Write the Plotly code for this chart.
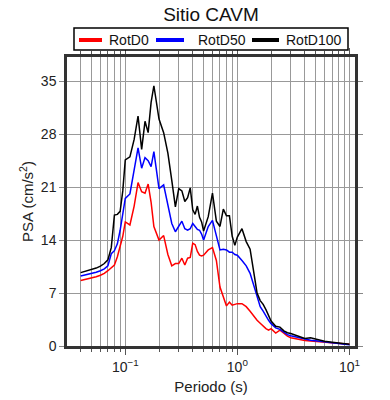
import plotly.graph_objects as go

periods = [0.04, 0.045, 0.05, 0.055, 0.06, 0.065, 0.07, 0.075, 0.08, 0.085, 0.09, 0.095,
           0.10, 0.11, 0.12, 0.13, 0.14, 0.15, 0.16, 0.17, 0.18, 0.19,
           0.20, 0.22, 0.24, 0.26, 0.28, 0.30, 0.32, 0.34, 0.36, 0.38,
           0.40, 0.42, 0.44, 0.46, 0.48, 0.50, 0.55, 0.60, 0.65, 0.70,
           0.75, 0.80, 0.85, 0.90, 0.95, 1.0, 1.1, 1.2, 1.3, 1.4,
           1.5, 1.6, 1.7, 1.8, 1.9, 2.0, 2.2, 2.4, 2.6, 2.8,
           3.0, 3.5, 4.0, 4.5, 5.0, 5.5, 6.0, 7.0, 8.0, 9.0, 10.0]

rotd0 = [8.65, 8.8, 9.0, 9.15, 9.35, 9.6, 9.95, 10.3, 10.7, 11.8, 13.2, 14.5,
         16.4, 16.0, 18.5, 21.6, 20.4, 20.2, 21.4, 19.0, 15.8, 14.8,
         14.0, 14.6, 12.1, 10.6, 10.9, 10.9, 11.6, 10.7, 11.6, 11.7,
         13.6, 13.4, 12.5, 12.0, 11.9, 12.0, 12.7, 13.0, 11.3, 7.8,
         6.5, 5.3, 5.8, 5.4, 5.5, 5.6, 5.6, 5.2, 4.6, 3.9,
         3.4, 3.0, 2.6, 2.3, 2.1, 2.3, 1.7, 2.1, 1.7, 1.3,
         1.1, 0.85, 0.72, 0.65, 0.6, 0.55, 0.5, 0.42, 0.35, 0.28, 0.22]

rotd50 = [9.25, 9.4, 9.6, 9.75, 9.95, 10.2, 10.6, 12.2, 12.6, 13.5, 15.3, 17.2,
          19.5, 20.1, 23.4, 26.2, 23.5, 24.9, 24.5, 23.7, 25.7, 23.5,
          20.8, 21.3, 18.6, 16.2, 15.1, 15.8, 16.5, 15.5, 15.3, 15.5,
          16.2, 15.8, 15.4, 15.3, 14.8, 14.0, 15.8, 16.6, 14.6, 12.7,
          12.8, 12.7, 12.4, 12.4, 12.1, 12.0, 11.3, 10.6, 9.6, 8.0,
          6.4, 5.2, 4.6, 3.9, 3.4, 2.95, 2.4, 2.2, 1.8, 1.5,
          1.35, 1.1, 0.85, 0.75, 0.7, 0.6, 0.52, 0.42, 0.32, 0.25, 0.18]

rotd100 = [9.7, 9.9, 10.1, 10.3, 10.55, 10.9, 11.4, 13.0, 17.3, 17.4, 17.8, 20.5,
           24.6, 25.0, 27.3, 30.4, 26.0, 29.7, 28.2, 32.2, 34.4, 32.0,
           30.0, 28.2, 25.5, 21.9, 18.4, 20.8, 20.5, 19.1, 19.6, 20.9,
           18.0, 17.4, 18.5, 17.0, 16.4, 15.2, 17.1, 20.2, 16.5, 15.8,
           18.1, 17.2, 17.2, 14.5, 13.3, 14.4, 15.5, 13.8, 12.8, 9.8,
           7.0, 6.0, 5.5, 4.8, 4.0, 3.3, 2.6, 2.5, 2.0, 1.75,
           1.65, 1.25, 1.0, 1.1, 0.9, 0.75, 0.62, 0.5, 0.38, 0.3, 0.22]

series_names = ["RotD0", "RotD50", "RotD100"]
series_colors = ["#ff0000", "#0000ff", "#000000"]
series_values = [rotd0, rotd50, rotd100]

y_ticks = [0, 7, 14, 21, 28, 35]
x_ticks = [0.1, 1, 10]
x_ticklabels = ["10<sup>\u22121</sup>", "10<sup>0</sup>", "10<sup>1</sup>"]

FONT = "Liberation Sans, Arial, Helvetica, sans-serif"

fig = go.Figure()
for name, color, vals in zip(series_names, series_colors, series_values):
    fig.add_trace(go.Scatter(x=periods, y=vals, mode="lines", name=name,
                             line=dict(color=color, width=1.5), showlegend=False))

# Custom legend box above the plot (paper coordinates)
legend_box = dict(x0=0.0243, x1=0.9757, y0=1.0242, y1=1.1003)
legend_y = 1.0588
legend_line_x = [(0.0417, 0.1215), (0.309, 0.4063), (0.6424, 0.7361)]
legend_text_x = [0.1389, 0.4479, 0.7535]

fig.add_shape(type="rect", xref="paper", yref="paper", **legend_box,
              line=dict(color="#000", width=1.5), fillcolor="white", layer="above")
for name, color, (lx0, lx1), tx in zip(series_names, series_colors, legend_line_x, legend_text_x):
    fig.add_shape(type="line", xref="paper", yref="paper", x0=lx0, x1=lx1,
                  y0=legend_y, y1=legend_y, line=dict(color=color, width=4), layer="above")
    fig.add_annotation(text=name, xref="paper", yref="paper", x=tx, y=legend_y,
                       xanchor="left", yanchor="middle", showarrow=False,
                       font=dict(size=14, color="#111"))

fig.update_layout(
    width=390, height=400,
    margin=dict(l=67, r=35, t=57, b=54, autoexpand=False),
    paper_bgcolor="white", plot_bgcolor="white",
    font=dict(family=FONT, size=14, color="#222"),
    showlegend=False,
    title=dict(text="Sitio CAVM", x=0.5, xref="paper", y=1 - 14 / 400,
               yref="container", yanchor="middle", xanchor="center",
               font=dict(size=19, color="#111")),
)

fig.update_xaxes(
    type="log", range=[-1.52, 1.05],
    tickmode="array", tickvals=x_ticks, ticktext=x_ticklabels,
    ticks="outside", ticklen=6, tickcolor="#555", tickwidth=1,
    showgrid=True, gridcolor="#999", gridwidth=1,
    minor=dict(dtick="D1", showgrid=True, gridcolor="#999", gridwidth=1,
               ticks="outside", ticklen=3, tickcolor="#555"),
    showline=True, linecolor="#333", linewidth=2.5, mirror="ticks",
    title=dict(text="Periodo (s)", font=dict(size=15), standoff=8),
    tickfont=dict(size=14), zeroline=False,
)
fig.update_yaxes(
    range=[0, 38.2], tickmode="array", tickvals=y_ticks,
    ticks="outside", ticklen=5, tickcolor="#888", tickwidth=1,
    showgrid=True, gridcolor="#999", gridwidth=1,
    showline=True, linecolor="#333", linewidth=2.5, mirror="ticks",
    title=dict(text="PSA (cm/s<sup>2</sup>)", font=dict(size=15), standoff=4),
    tickfont=dict(size=14), zeroline=False,
)

fig.write_html("out.html", config={"displayModeBar": False},
               post_script="document.body.style.margin='0';")
